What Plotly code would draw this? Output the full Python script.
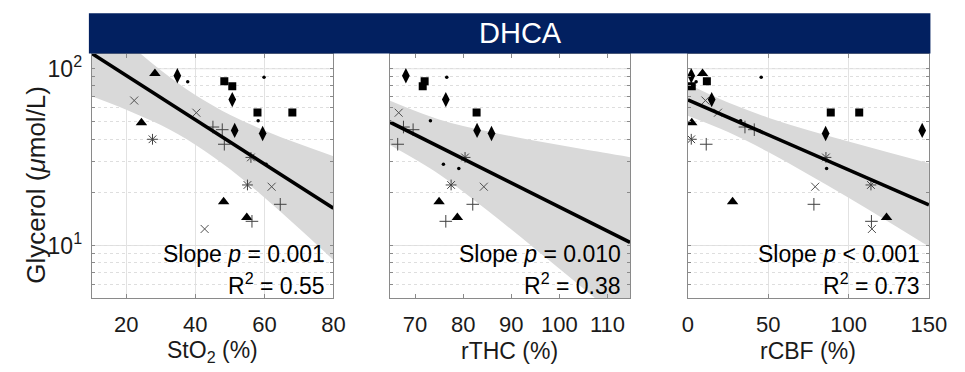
import plotly.graph_objects as go

W, H = 965, 372

# ---------------- data ----------------
# Glycerol (umol/L) and the three predictors, one list per marker group
gly_tri = [94.1, 49.5, 17.7, 14.4]
sto2_tri = [28.3, 24.4, 48.2, 54.9]
rthc_tri = [None, None, 75.0, 78.8]
rcbf_tri = [9.1, 2.4, 27.8, 123.6]

gly_dia = [91.3, 66.9, 44.8, 43.0]
sto2_dia = [34.8, 50.7, 51.4, 59.5]
rthc_dia = [68.1, 76.4, 82.9, 85.9]
rcbf_dia = [2.1, 14.8, 145.8, 85.7]

gly_sq = [84.9, 79.6, 56.6, 56.6]
sto2_sq = [48.4, 50.7, 58.0, 68.1]
rthc_sq = [72.0, 71.6, 82.8, None]
rcbf_sq = [11.8, 2.4, 88.9, 106.6]

gly_dot = [84.5, 89.4, 50.8, 28.8, 27.3]
sto2_dot = [37.8, 59.9, 58.2, 60.5, None]
rthc_dot = [None, 76.6, 73.2, 75.9, 79.1]
rcbf_dot = [5.1, 45.6, 32.8, None, 86.3]

gly_x = [66.1, 56.4, 21.5, 12.4]
sto2_x = [22.3, 40.3, 62.1, 42.7]
rthc_x = [None, 66.6, 84.3, None]
rcbf_x = [10.9, 18.7, 79.2, 114.5]

gly_plus = [46.8, 45.2, 37.4, 17.1, 13.7]
sto2_plus = [45.1, 47.8, 48.4, 64.6, 56.4]
rthc_plus = [67.6, 69.6, 66.4, 82.0, 76.4]
rcbf_plus = [35.5, 41.3, 11.4, 78.4, 114.2]

gly_ast = [39.9, 31.5, 22.0]
sto2_ast = [27.6, 56.1, 55.1]
rthc_ast = [None, 80.4, 77.5]
rcbf_ast = [2.1, 85.9, 113.9]

# regression (log10 glycerol = a + b*x)
fit_sto2 = (2.2119, -0.012509)
fit_rthc = (2.5802, -0.01362)
fit_rcbf = (1.824, -0.00396)

# confidence band edges
band_sto2_x = [10, 20, 30, 40, 50, 60, 70, 80]
band_sto2_hi = [213, 142.7, 98.2, 71.1, 55.0, 44.8, 37.6, 32.0]
band_sto2_lo = [69.9, 58.7, 48.0, 37.2, 27.1, 18.7, 12.5, 8.27]

band_rthc_x = [64.7, 75, 85, 95, 105, 114.7]
band_rthc_hi = [66.2, 51.7, 44.3, 39.1, 35.0, 31.6]
band_rthc_lo = [37.1, 25.3, 15.8, 9.55, 5.71, 3.45]

band_rcbf_x = [0, 25, 50, 75, 100, 125, 150]
band_rcbf_hi = [82.0, 64.4, 52.9, 44.9, 38.7, 33.6, 29.2]
band_rcbf_lo = [54.2, 43.8, 33.8, 25.2, 18.6, 13.6, 9.86]

x_ranges = [[10, 80], [64.7, 114.7], [0, 150]]
x_ticks = [[20, 40, 60, 80], [70, 80, 90, 100, 110], [0, 50, 100, 150]]
x_titles = ["StO<sub>2</sub> (%)", "rTHC (%)", "rCBF (%)"]
p_texts = ["= 0.001", "= 0.010", "< 0.001"]
r2_texts = ["0.55", "0.38", "0.73"]
y_ticks = [5, 6, 7, 8, 9, 10, 20, 30, 40, 50, 60, 70, 80, 90, 100]
title_text = "DHCA"

# ---------------- styling ----------------
FONT = "Liberation Sans, Arial, sans-serif"
TXT = "#1a1a1a"
GRID = "#e2e2e2"
MINOR = "#dedede"
AXLINE = "#8a8a8a"
BAND = "#d9d9d9"
NAVY = "#022060"

def px(x):
    return x / W

def py(y):
    return 1 - y / H

x_dom_px = [(87.9, 335.8), (393.3, 640.0), (699.3, 946.5)]
y_dom = [py(298.3), py(52.7)]

marker_groups = [
    ("tri", dict(symbol="triangle-up", size=10, color="black")),
    ("dia", dict(symbol="diamond-tall", size=11, color="black")),
    ("sq", dict(symbol="square", size=8, color="black")),
    ("dot", dict(symbol="circle", size=3.5, color="black")),
    ("x", dict(symbol="x-thin-open", size=8, color="#505050", line=dict(width=1, color="#505050"))),
    ("plus", dict(symbol="cross-thin-open", size=9, color="#404040", line=dict(width=1, color="#404040"))),
    ("ast", dict(symbol="asterisk-open", size=9, color="#404040", line=dict(width=1, color="#404040"))),
]
data = {
    "tri": (gly_tri, [sto2_tri, rthc_tri, rcbf_tri]),
    "dia": (gly_dia, [sto2_dia, rthc_dia, rcbf_dia]),
    "sq": (gly_sq, [sto2_sq, rthc_sq, rcbf_sq]),
    "dot": (gly_dot, [sto2_dot, rthc_dot, rcbf_dot]),
    "x": (gly_x, [sto2_x, rthc_x, rcbf_x]),
    "plus": (gly_plus, [sto2_plus, rthc_plus, rcbf_plus]),
    "ast": (gly_ast, [sto2_ast, rthc_ast, rcbf_ast]),
}
fits = [fit_sto2, fit_rthc, fit_rcbf]
bands = [(band_sto2_x, band_sto2_hi, band_sto2_lo),
         (band_rthc_x, band_rthc_hi, band_rthc_lo),
         (band_rcbf_x, band_rcbf_hi, band_rcbf_lo)]

fig = go.Figure()

for i in range(3):
    xa = "x" if i == 0 else f"x{i+1}"
    ya = "y" if i == 0 else f"y{i+1}"
    bx, bhi, blo = bands[i]
    fig.add_trace(go.Scatter(x=bx, y=blo, mode="lines", line=dict(width=0, shape="spline", color=BAND),
                             xaxis=xa, yaxis=ya, hoverinfo="skip", showlegend=False))
    fig.add_trace(go.Scatter(x=bx, y=bhi, mode="lines", line=dict(width=0, shape="spline", color=BAND),
                             fill="tonexty", fillcolor=BAND, xaxis=xa, yaxis=ya,
                             hoverinfo="skip", showlegend=False))
    for name, mk in marker_groups:
        gy, xs = data[name]
        fig.add_trace(go.Scatter(x=xs[i], y=gy, mode="markers", marker=mk,
                                 xaxis=xa, yaxis=ya, showlegend=False))
    a, b = fits[i]
    lx = x_ranges[i]
    ly = [10 ** (a + b * v) for v in lx]
    fig.add_trace(go.Scatter(x=lx, y=ly, mode="lines", line=dict(color="black", width=3.6),
                             xaxis=xa, yaxis=ya, showlegend=False, hoverinfo="skip"))

layout = dict(
    width=W, height=H, margin=dict(l=0, r=0, t=0, b=0),
    paper_bgcolor="white", plot_bgcolor="white",
    font=dict(family=FONT, color=TXT, size=22),
    showlegend=False,
)

shapes = []
annotations = []
for i in range(3):
    sfx = "" if i == 0 else str(i + 1)
    x0, x1 = x_dom_px[i]
    layout["xaxis" + sfx] = dict(
        domain=[px(x0), px(x1)], range=x_ranges[i], anchor="y" + sfx,
        tickvals=x_ticks[i], ticks="inside", ticklen=4, tickcolor=AXLINE,
        showline=True, linecolor=AXLINE, linewidth=1, mirror="ticks",
        showgrid=(i != 1), gridcolor=GRID, gridwidth=1, zeroline=False,
        tickfont=dict(size=22, color=TXT), ticklabelstandoff=6,
    )
    layout["yaxis" + sfx] = dict(
        domain=y_dom, type="log", range=[0.70, 2.086], anchor="x" + sfx,
        tickvals=y_ticks,
        ticktext=[("10<sup>1</sup>" if v == 10 else "10<sup>2</sup>" if v == 100 else "") for v in y_ticks],
        showticklabels=(i == 0), ticks="inside", ticklen=3, tickcolor=AXLINE,
        showline=True, linecolor=AXLINE, linewidth=1, mirror="ticks",
        showgrid=True, gridcolor=MINOR, griddash="dot", gridwidth=1, zeroline=False,
        tickfont=dict(size=23, color=TXT), ticklabelstandoff=4,
    )
    for v in (10, 100):
        shapes.append(dict(type="line", xref=f"x{sfx} domain", yref="y" + sfx, x0=0, x1=1, y0=v, y1=v,
                           line=dict(color=GRID, width=1), layer="below"))
    # axis title
    annotations.append(dict(text=x_titles[i], x=px((x0 + x1) / 2), y=py(351), xref="paper", yref="paper",
                            showarrow=False, xanchor="center", yanchor="middle",
                            font=dict(size=23, color=TXT)))
    annotations.append(dict(text=f"Slope <i>p</i> {p_texts[i]}", x=px(x1 - 7), y=py(254), xref="paper",
                            yref="paper", showarrow=False, xanchor="right", yanchor="middle",
                            font=dict(size=23, color="black")))
    annotations.append(dict(text=f"R<sup>2</sup> = {r2_texts[i]}", x=px(x1 - 7), y=py(284), xref="paper",
                            yref="paper", showarrow=False, xanchor="right", yanchor="middle",
                            font=dict(size=23, color="black")))

# extra grid of the middle panel (lines not at the labelled ticks)
layout["xaxis4"] = dict(overlaying="x2", anchor="y2", range=[60, 120], tickvals=[80, 100],
                        showticklabels=False, ticks="", showline=False, showgrid=True,
                        gridcolor=GRID, zeroline=False)

shapes.append(dict(type="rect", xref="paper", yref="paper", x0=px(85), x1=px(948), y0=py(52.7), y1=py(12.3),
                   fillcolor=NAVY, line=dict(width=0), layer="above"))
annotations.append(dict(text=title_text, x=px(528), y=py(32.5), xref="paper", yref="paper", showarrow=False,
                        xanchor="center", yanchor="middle", font=dict(size=29, color="white")))
annotations.append(dict(text="Glycerol (<i>\u03bc</i>mol/L)", x=px(30), y=py(184), xref="paper", yref="paper",
                        showarrow=False, textangle=-90, xanchor="center", yanchor="middle",
                        font=dict(size=26, color=TXT)))

layout["shapes"] = shapes
layout["annotations"] = annotations
fig.update_layout(**layout)

fig.write_html("out.html", config={"displayModeBar": False})

# remove the browser's default page margin so the figure sits at the window's corner
with open("out.html", encoding="utf-8") as f:
    html = f.read()
html = html.replace("<head>", "<head><style>html,body{margin:0;padding:0;overflow:hidden;}</style>", 1)
with open("out.html", "w", encoding="utf-8") as f:
    f.write(html)
